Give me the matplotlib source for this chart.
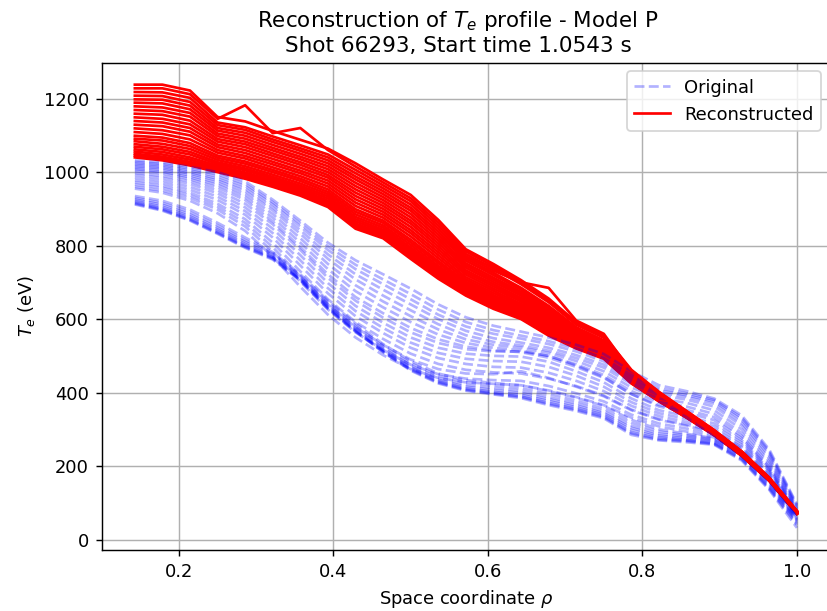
import matplotlib
matplotlib.use("Agg")
import matplotlib.pyplot as plt

# Radial grid (normalised space coordinate rho)
rho = [0.1429, 0.1786, 0.2143, 0.2500, 0.2857, 0.3214, 0.3571, 0.3929,
       0.4286, 0.4643, 0.5000, 0.5357, 0.5714, 0.6071, 0.6429, 0.6786,
       0.7143, 0.7500, 0.7857, 0.8214, 0.8571, 0.8929, 0.9286, 0.9643,
       1.0000]

# Measured Te profiles (eV), one row per time slice
te_original = [
    [1032, 1026, 1014, 1000, 975, 925, 868, 808, 760, 722, 683, 640, 605, 582, 566, 550, 530, 505, 458, 420, 404, 384, 338, 245, 96],
    [1028, 1022, 1009, 994, 968, 918, 860, 798, 748, 708, 668, 626, 592, 570, 555, 540, 520, 494, 448, 412, 398, 380, 332, 240, 93],
    [1024, 1018, 1005, 988, 962, 912, 852, 788, 736, 695, 654, 612, 580, 560, 547, 532, 512, 485, 440, 406, 393, 376, 326, 235, 90],
    [1020, 1014, 1000, 982, 955, 904, 842, 776, 722, 680, 640, 600, 568, 548, 536, 522, 502, 476, 432, 400, 388, 370, 318, 228, 86],
    [1016, 1010, 996, 977, 948, 896, 832, 764, 708, 664, 624, 586, 556, 538, 528, 514, 494, 468, 424, 393, 381, 362, 310, 220, 83],
    [1012, 1006, 991, 971, 940, 886, 820, 750, 692, 648, 608, 572, 545, 530, 522, 508, 486, 458, 414, 384, 372, 352, 300, 212, 80],
    [1008, 1001, 986, 965, 932, 876, 808, 736, 676, 632, 592, 558, 535, 522, 515, 500, 477, 448, 404, 374, 362, 342, 290, 205, 77],
    [1004, 997, 981, 958, 924, 866, 796, 722, 660, 616, 576, 545, 525, 515, 510, 495, 470, 440, 396, 366, 353, 333, 282, 198, 75],
    [998, 990, 975, 950, 914, 858, 788, 712, 650, 604, 564, 535, 518, 512, 512, 500, 474, 442, 396, 362, 346, 325, 276, 194, 73],
    [992, 984, 968, 942, 904, 846, 774, 698, 636, 590, 550, 522, 506, 500, 498, 484, 458, 428, 384, 352, 336, 316, 270, 190, 71],
    [985, 977, 960, 933, 894, 834, 760, 684, 622, 576, 536, 508, 492, 486, 484, 470, 446, 416, 374, 344, 328, 308, 264, 186, 69],
    [978, 970, 952, 924, 884, 822, 746, 670, 608, 562, 522, 494, 478, 470, 468, 454, 432, 404, 364, 336, 320, 300, 258, 182, 67],
    [972, 963, 944, 914, 872, 808, 730, 654, 592, 546, 506, 478, 462, 455, 452, 438, 418, 392, 354, 328, 313, 294, 252, 176, 65],
    [966, 957, 937, 906, 862, 796, 716, 640, 578, 530, 490, 464, 452, 450, 458, 440, 416, 390, 352, 326, 310, 290, 248, 172, 63],
    [960, 950, 930, 898, 852, 784, 702, 626, 564, 516, 476, 450, 438, 434, 432, 418, 398, 376, 340, 316, 302, 284, 244, 168, 61],
    [955, 944, 922, 888, 840, 770, 688, 612, 550, 502, 464, 440, 428, 424, 420, 406, 388, 366, 332, 308, 294, 278, 240, 164, 59],
    [935, 922, 898, 862, 822, 782, 722, 650, 588, 532, 486, 452, 434, 426, 420, 404, 386, 364, 326, 300, 288, 276, 238, 160, 57],
    [930, 916, 891, 855, 815, 778, 718, 645, 582, 526, 480, 446, 428, 420, 412, 396, 378, 356, 318, 294, 284, 273, 234, 156, 55],
    [926, 911, 885, 849, 810, 774, 714, 640, 577, 521, 474, 440, 421, 413, 405, 388, 371, 349, 310, 288, 280, 270, 230, 152, 53],
    [922, 906, 880, 844, 805, 770, 711, 636, 573, 517, 470, 435, 416, 407, 399, 382, 365, 344, 304, 283, 276, 267, 227, 148, 51],
    [919, 902, 876, 840, 801, 768, 709, 633, 570, 514, 467, 432, 412, 402, 394, 377, 360, 340, 298, 279, 272, 264, 224, 144, 48],
    [916, 899, 872, 836, 798, 766, 707, 631, 568, 512, 464, 429, 409, 399, 390, 372, 356, 336, 292, 275, 270, 261, 220, 140, 44],
    [914, 897, 870, 834, 796, 764, 706, 629, 567, 511, 462, 427, 407, 397, 388, 369, 353, 333, 289, 272, 268, 260, 218, 138, 40],
    [912, 895, 868, 832, 794, 762, 705, 628, 566, 510, 460, 425, 405, 395, 385, 366, 350, 330, 285, 270, 265, 258, 215, 135, 32],
]

# Model P reconstructions (eV), one row per time slice
te_reconstructed = [
    [1238, 1238, 1222, 1150, 1138, 1112, 1088, 1064, 1024, 980, 938, 870, 790, 750, 706, 656, 592, 555, 462, 402, 350, 298, 240, 168, 78],
    [1228, 1228, 1212, 1145, 1182, 1106, 1120, 1060, 1015, 972, 929, 862, 784, 744, 701, 651, 588, 552, 460, 401, 349, 297, 239, 168, 78],
    [1218, 1217, 1202, 1135, 1122, 1097, 1073, 1048, 1006, 964, 921, 854, 777, 738, 695, 646, 585, 549, 458, 399, 348, 297, 239, 167, 77],
    [1208, 1207, 1191, 1128, 1115, 1089, 1065, 1040, 997, 956, 912, 846, 771, 732, 700, 685, 596, 560, 456, 398, 347, 296, 238, 167, 77],
    [1198, 1197, 1181, 1120, 1107, 1082, 1058, 1032, 988, 948, 903, 838, 765, 726, 685, 636, 578, 542, 455, 397, 346, 295, 238, 166, 76],
    [1189, 1187, 1171, 1113, 1099, 1074, 1050, 1024, 980, 940, 895, 830, 759, 720, 680, 631, 574, 539, 453, 396, 346, 295, 237, 166, 76],
    [1179, 1176, 1161, 1105, 1091, 1066, 1042, 1016, 971, 932, 886, 822, 752, 713, 674, 626, 570, 536, 451, 394, 345, 294, 236, 166, 76],
    [1169, 1166, 1151, 1098, 1083, 1059, 1035, 1008, 962, 924, 877, 814, 746, 707, 669, 621, 567, 533, 449, 393, 344, 293, 236, 165, 75],
    [1159, 1156, 1140, 1090, 1076, 1051, 1027, 1000, 953, 916, 868, 806, 740, 701, 664, 616, 563, 530, 447, 392, 343, 292, 235, 165, 75],
    [1149, 1145, 1130, 1083, 1068, 1044, 1020, 992, 944, 908, 860, 798, 733, 695, 658, 611, 560, 527, 445, 390, 342, 292, 235, 164, 74],
    [1139, 1135, 1120, 1075, 1060, 1036, 1012, 985, 935, 900, 851, 790, 727, 689, 653, 606, 556, 524, 444, 389, 341, 291, 234, 164, 74],
    [1129, 1125, 1110, 1068, 1052, 1028, 1004, 977, 926, 892, 842, 782, 721, 683, 648, 600, 552, 520, 442, 388, 340, 290, 233, 164, 74],
    [1119, 1114, 1100, 1060, 1044, 1021, 997, 969, 917, 884, 834, 774, 714, 677, 642, 595, 549, 517, 440, 386, 339, 290, 233, 163, 73],
    [1109, 1104, 1089, 1053, 1037, 1013, 989, 961, 908, 876, 825, 766, 708, 671, 637, 590, 545, 514, 438, 385, 338, 289, 232, 163, 73],
    [1099, 1094, 1079, 1045, 1029, 1006, 982, 953, 899, 868, 816, 758, 702, 665, 632, 585, 542, 511, 436, 384, 337, 288, 232, 162, 72],
    [1091, 1086, 1071, 1039, 1023, 1000, 976, 946, 892, 862, 809, 752, 697, 660, 628, 581, 539, 508, 435, 383, 337, 288, 231, 162, 72],
    [1084, 1077, 1063, 1033, 1016, 993, 969, 940, 885, 855, 802, 745, 692, 655, 623, 577, 536, 506, 433, 382, 336, 287, 231, 162, 72],
    [1076, 1069, 1055, 1027, 1010, 987, 963, 934, 878, 849, 795, 739, 687, 650, 619, 573, 533, 503, 432, 381, 335, 287, 230, 161, 71],
    [1069, 1062, 1048, 1022, 1005, 982, 958, 928, 872, 843, 789, 733, 682, 646, 615, 570, 530, 501, 430, 380, 335, 286, 230, 161, 71],
    [1062, 1055, 1040, 1017, 999, 977, 953, 922, 866, 838, 783, 728, 678, 641, 612, 566, 528, 499, 429, 379, 334, 286, 229, 161, 71],
    [1056, 1048, 1034, 1012, 994, 972, 948, 918, 860, 833, 778, 723, 674, 638, 608, 563, 526, 497, 428, 378, 333, 285, 229, 161, 71],
    [1050, 1042, 1028, 1008, 990, 968, 944, 913, 855, 828, 773, 718, 670, 634, 605, 560, 524, 495, 427, 377, 333, 285, 229, 160, 70],
    [1045, 1037, 1023, 1004, 986, 964, 940, 909, 850, 824, 768, 714, 667, 631, 603, 558, 522, 494, 426, 377, 332, 284, 228, 160, 70],
    [1040, 1032, 1018, 1000, 982, 960, 936, 905, 846, 820, 764, 710, 664, 628, 600, 555, 520, 492, 425, 376, 332, 284, 228, 160, 70],
]

title_text = "Reconstruction of $T_e$ profile - Model P\nShot 66293, Start time 1.0543 s"

W, H = 827, 611
DPI = W / 6.4
fig = plt.figure(figsize=(W / DPI, H / DPI), dpi=DPI)
ax = fig.add_axes([101.75 / W, 61 / H, (830 - 101.75) / W, (550 - 62.5) / H])

ax.grid(True)

n = len(te_original)
for k in range(n):
    orig = te_original[n - 1 - k]
    rec = te_reconstructed[n - 1 - k]
    ax.plot(rho, orig, color="blue", linestyle="--", linewidth=1.5, alpha=0.3,
            label="Original" if k == 0 else None)
    ax.plot(rho, rec, color="red", linestyle="-", linewidth=1.5,
            label="Reconstructed" if k == 0 else None)

ax.set_xlabel(r"Space coordinate $\rho$")
ax.set_ylabel(r"$T_e$ (eV)")
ax.set_title(title_text, fontsize=12, x=(458 - 101.75) / (830 - 101.75))
ax.legend(loc="upper right")

fig.savefig("out.png", dpi=DPI)
